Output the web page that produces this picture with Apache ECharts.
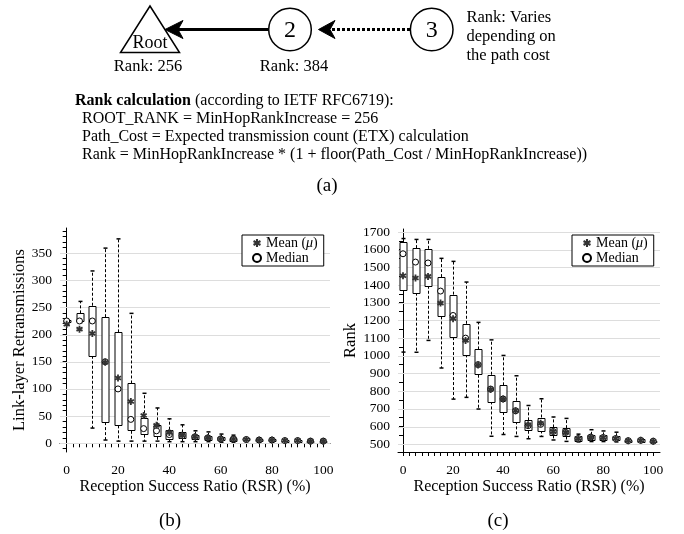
<!DOCTYPE html>
<html><head><meta charset="utf-8">
<script src="https://cdn.jsdelivr.net/npm/echarts@6/dist/echarts.min.js"></script>
<style>html,body{margin:0;padding:0;background:#fff}#c{width:684px;height:534px}</style>
</head><body><div id="c"></div>
<script>
// ---------- data ----------
const rsr = [0,5,10,15,20,25,30,35,40,45,50,55,60,65,70,75,80,85,90,95,100];

// (b) Link-layer retransmissions
const retxMin    = [218,222, 28,  6,  4,  4,  4,  4,  3,  3,  3,  3,  2,  2,  3,  3,  3,  2,  2,  2,  2];
const retxQ1     = [222,224,161, 39, 33, 23, 16, 12,  9,  9,  8,  7,  5,  5,  5,  4,  4,  3,  3,  3,  3];
const retxMedian = [225,225,225,150,100, 44, 27, 23, 16, 14, 12, 10,  8,  8,  7,  6,  6,  5,  5,  4,  4];
const retxQ3     = [226,239,253,232,204,110, 46, 33, 25, 20, 16, 14, 11, 10,  9,  8,  7,  6,  6,  5,  5];
const retxMax    = [227,261,317,359,376,239, 92, 65, 45, 34, 23, 21, 17, 15, 10,  9,  8,  7,  7,  6,  6];
const retxMean   = [219,210,202,149,120, 77, 51, 33, 20, 15, 12, 10,  8,  8,  7,  6,  6,  5,  5,  4,  4];

// (c) Rank
const rankMin    = [1021,1020,1087, 931, 755, 765, 699, 545, 555, 544, 531, 544, 524, 516, 513, 515, 515, 513, 512, 512, 510];
const rankQ1     = [1372,1357,1396,1223,1106,1008, 893, 742, 682, 629, 576, 578, 550, 544, 516, 527, 524, 520, 514, 514, 512];
const rankMedian = [1577,1530,1525,1366,1228,1100, 950, 812, 756, 689, 605, 612, 572, 567, 532, 540, 538, 532, 520, 522, 517];
const rankQ3     = [1641,1609,1605,1445,1346,1181,1036, 893, 833, 746, 635, 651, 595, 591, 544, 553, 550, 545, 524, 530, 520];
const rankMax    = [1663,1658,1658,1551,1534,1417,1189,1090,1002, 887, 719, 757, 654, 646, 557, 582, 575, 568, 528, 530, 522];
const rankMean   = [1453,1440,1449,1298,1210,1087, 948, 810, 755, 689, 610, 619, 572, 567, 532, 540, 538, 532, 520, 522, 517];

// ticks / labels
const xLabelValues = [0,20,40,60,80,100];
const xTickValues = [0,2.5,5,7.5,10,12.5,15,17.5,20,22.5,25,27.5,30,32.5,35,37.5,40,42.5,45,47.5,50,
  52.5,55,57.5,60,62.5,65,67.5,70,72.5,75,77.5,80,82.5,85,87.5,90,92.5,95,97.5,100];
const retxLabelValues = [0,50,100,150,200,250,300,350];
const retxTickValues = [-10,0,10,20,30,40,50,60,70,80,90,100,110,120,130,140,150,160,170,180,190,200,
  210,220,230,240,250,260,270,280,290,300,310,320,330,340,350,360,370,380,390];
const rankLabelValues = [500,600,700,800,900,1000,1100,1200,1300,1400,1500,1600,1700];
const rankTickValues = [500,550,600,650,700,750,800,850,900,950,1000,1050,1100,1150,1200,1250,1300,
  1350,1400,1450,1500,1550,1600,1650,1700];

const FONT = '"Liberation Serif", "Times New Roman", serif';
const ASTERISK = 'path://M-13,50L13,50L13,-50L-13,-50Z M36.8,36.3L49.8,13.7L-36.8,-36.3L-49.8,-13.7Z M-49.8,13.7L-36.8,36.3L49.8,-13.7L36.8,-36.3Z';

function boxRenderer(boxW, capW) {
  return function (params, api) {
    const x = api.value(0);
    const pMin = api.coord([x, api.value(1)]);
    const pQ1 = api.coord([x, api.value(2)]);
    const pQ3 = api.coord([x, api.value(4)]);
    const pMax = api.coord([x, api.value(5)]);
    const cx = Math.round(pMin[0]) + 0.5;
    const dash = {stroke: '#000', lineWidth: 1, lineDash: [3, 2], fill: null};
    const cap = {stroke: '#000', lineWidth: 1.5};
    return {type: 'group', children: [
      {type: 'line', shape: {x1: cx, y1: pQ1[1], x2: cx, y2: pMin[1]}, style: dash},
      {type: 'line', shape: {x1: cx, y1: pQ3[1], x2: cx, y2: pMax[1]}, style: dash},
      {type: 'line', shape: {x1: cx - capW / 2, y1: pMin[1], x2: cx + capW / 2, y2: pMin[1]}, style: cap},
      {type: 'line', shape: {x1: cx - capW / 2, y1: pMax[1], x2: cx + capW / 2, y2: pMax[1]}, style: cap},
      {type: 'rect', shape: {x: cx - boxW / 2, y: Math.round(pQ3[1]) + 0.5, width: boxW,
        height: Math.max(Math.round(pQ1[1] - pQ3[1]), 1)}, style: {fill: '#fff', stroke: '#000', lineWidth: 1}}
    ]};
  };
}
function gridLineRenderer(params, api) {
  const p = api.coord([api.value(0), api.value(1)]);
  const cs = params.coordSys;
  const y = Math.round(p[1]) + 0.5;
  return {type: 'line', shape: {x1: cs.x, y1: y, x2: cs.x + cs.width, y2: y},
    style: {stroke: '#dddddd', lineWidth: 1}};
}

function xAxisCfg(gridIndex, min, max) {
  return {
    type: 'value', gridIndex, min, max,
    name: 'Reception Success Ratio (RSR) (%)', nameLocation: 'middle', nameGap: 27,
    nameTextStyle: {fontFamily: FONT, fontSize: 16, color: '#000'},
    axisLine: {show: true, lineStyle: {color: '#000', width: 1}},
    axisTick: {show: true, customValues: xTickValues, length: 4, lineStyle: {color: '#000'}},
    axisLabel: {customValues: xLabelValues, fontFamily: FONT, fontSize: 13.5, color: '#000', margin: 11,
      formatter: v => String(v)},
    splitLine: {show: false}
  };
}
function yAxisCfg(gridIndex, min, max, name, nameGap, labels, ticks) {
  return {
    type: 'value', gridIndex, min, max,
    name, nameLocation: 'middle', nameGap,
    nameTextStyle: {fontFamily: FONT, fontSize: 16.5, color: '#000'},
    axisLine: {show: true, lineStyle: {color: '#000', width: 1}},
    axisTick: {show: true, customValues: ticks, length: 4, lineStyle: {color: '#000'}},
    axisLabel: {customValues: labels, fontFamily: FONT, fontSize: 13.5, color: '#000', margin: 8,
      formatter: v => String(v)},
    splitLine: {show: false}
  };
}
function legendCfg(left) {
  return {
    left, top: 235, orient: 'vertical', data: ['Mean (μ)', 'Median'],
    backgroundColor: '#fff', borderColor: '#000', borderWidth: 1, borderRadius: 0,
    padding: [1, 6, 1, 10], itemGap: 1, itemWidth: 8, itemHeight: 8,
    selectedMode: false,
    formatter: function (n) { return n === 'Mean (μ)' ? 'Mean ({i|μ})' : n; },
    textStyle: {fontFamily: FONT, fontSize: 14, color: '#000',
      rich: {i: {fontFamily: FONT, fontSize: 14, fontStyle: 'italic', color: '#000'}}}
  };
}
function boxData(mn, q1, md, q3, mx) { return rsr.map((x, i) => [x, mn[i], q1[i], md[i], q3[i], mx[i]]); }
function pts(arr) { return rsr.map((x, i) => [x, arr[i]]); }

const T = (x, y, text, size, align, extra) => Object.assign({type: 'text', x, y, silent: true,
  style: Object.assign({text, fontFamily: FONT, fontSize: size, fill: '#000', align: align || 'center', verticalAlign: 'middle'}, extra || {})});

const option = {
  animation: false,
  backgroundColor: '#fff',
  textStyle: {fontFamily: FONT},
  grid: [
    {left: 60, top: 228, width: 270, height: 224, containLabel: false},
    {left: 398, top: 229, width: 262, height: 223, containLabel: false}
  ],
  xAxis: [xAxisCfg(0, -2.6, 102.6), xAxisCfg(1, -2, 102.7)],
  yAxis: [
    yAxisCfg(0, -16, 396, 'Link-layer Retransmissions', 28, retxLabelValues, retxTickValues),
    yAxisCfg(1, 456, 1717, 'Rank', 38, rankLabelValues, rankTickValues)
  ],
  legend: [legendCfg(242), legendCfg(572)],
  series: [
    {type: 'custom', name: 'gridB', xAxisIndex: 0, yAxisIndex: 0, z: 1, silent: true,
      data: retxLabelValues.map(v => [0, v]), renderItem: gridLineRenderer},
    {type: 'custom', name: 'gridC', xAxisIndex: 1, yAxisIndex: 1, z: 1, silent: true,
      data: rankLabelValues.map(v => [0, v]), renderItem: gridLineRenderer},
    {type: 'custom', name: 'boxB', xAxisIndex: 0, yAxisIndex: 0, z: 2,
      encode: {x: 0, y: [1, 2, 3, 4, 5]},
      data: boxData(retxMin, retxQ1, retxMedian, retxQ3, retxMax), renderItem: boxRenderer(7, 4)},
    {type: 'custom', name: 'boxC', xAxisIndex: 1, yAxisIndex: 1, z: 2,
      encode: {x: 0, y: [1, 2, 3, 4, 5]},
      data: boxData(rankMin, rankQ1, rankMedian, rankQ3, rankMax), renderItem: boxRenderer(7, 4)},
    {type: 'scatter', name: 'Median', xAxisIndex: 0, yAxisIndex: 0, z: 4, symbol: 'circle', symbolSize: 6,
      itemStyle: {color: '#fff', borderColor: '#000', borderWidth: 1, opacity: 1}, data: pts(retxMedian)},
    {type: 'scatter', name: 'Mean (μ)', xAxisIndex: 0, yAxisIndex: 0, z: 5, symbol: ASTERISK, symbolSize: 7,
      itemStyle: {color: '#333', opacity: 1}, data: pts(retxMean)},
    {type: 'scatter', name: 'Median', xAxisIndex: 1, yAxisIndex: 1, z: 4, symbol: 'circle', symbolSize: 6,
      itemStyle: {color: '#fff', borderColor: '#000', borderWidth: 1, opacity: 1}, data: pts(rankMedian)},
    {type: 'scatter', name: 'Mean (μ)', xAxisIndex: 1, yAxisIndex: 1, z: 5, symbol: ASTERISK, symbolSize: 7,
      itemStyle: {color: '#333', opacity: 1}, data: pts(rankMean)}
  ],
  graphic: [
    // diagram (a)
    {type: 'polygon', silent: true, shape: {points: [[150, 6], [120.5, 52.5], [179.5, 52.5]]},
      style: {fill: '#fff', stroke: '#000', lineWidth: 1.5}},
    T(150, 43, 'Root', 18),
    T(148, 66.5, 'Rank: 256', 16.5),
    {type: 'line', silent: true, shape: {x1: 268.5, y1: 29.5, x2: 178, y2: 29.5}, style: {stroke: '#000', lineWidth: 3}},
    {type: 'polygon', silent: true, shape: {points: [[165, 29.5], [183, 20.5], [178, 29.5], [183, 38.5]]},
      style: {fill: '#000', stroke: '#000', lineWidth: 1}},
    {type: 'circle', silent: true, shape: {cx: 290, cy: 29.5, r: 21.3}, style: {fill: '#fff', stroke: '#000', lineWidth: 1.5}},
    T(290, 30.5, '2', 24),
    T(294, 66.5, 'Rank: 384', 16.5),
    {type: 'line', silent: true, shape: {x1: 410, y1: 29.5, x2: 330, y2: 29.5}, style: {stroke: '#000', lineWidth: 3, lineDash: [3, 2]}},
    {type: 'polygon', silent: true, shape: {points: [[318.5, 29.5], [335, 20.5], [330, 29.5], [335, 38.5]]},
      style: {fill: '#000', stroke: '#000', lineWidth: 1}},
    {type: 'circle', silent: true, shape: {cx: 431.7, cy: 29.5, r: 21.3}, style: {fill: '#fff', stroke: '#000', lineWidth: 1.5}},
    T(431.7, 30.5, '3', 24),
    T(466.5, 18, 'Rank: Varies', 16.5, 'left'),
    T(466.5, 37, 'depending on', 16.5, 'left'),
    T(466.5, 56, 'the path cost', 16.5, 'left'),
    T(75, 101, '{b|Rank calculation} (according to IETF RFC6719):', 16, 'left',
      {rich: {b: {fontFamily: FONT, fontSize: 16, fontWeight: 'bold', fill: '#000'}}}),
    T(82, 119, 'ROOT_RANK = MinHopRankIncrease = 256', 16, 'left'),
    T(82, 137, 'Path_Cost = Expected transmission count (ETX) calculation', 16, 'left'),
    T(82, 155, 'Rank = MinHopRankIncrease * (1 + floor(Path_Cost / MinHopRankIncrease))', 16, 'left'),
    T(327, 186, '(a)', 19),
    T(170, 521, '(b)', 19),
    T(498, 521, '(c)', 19)
  ]
};
echarts.init(document.getElementById('c'), null, {renderer: 'canvas'}).setOption(option);
</script>
</body></html>
